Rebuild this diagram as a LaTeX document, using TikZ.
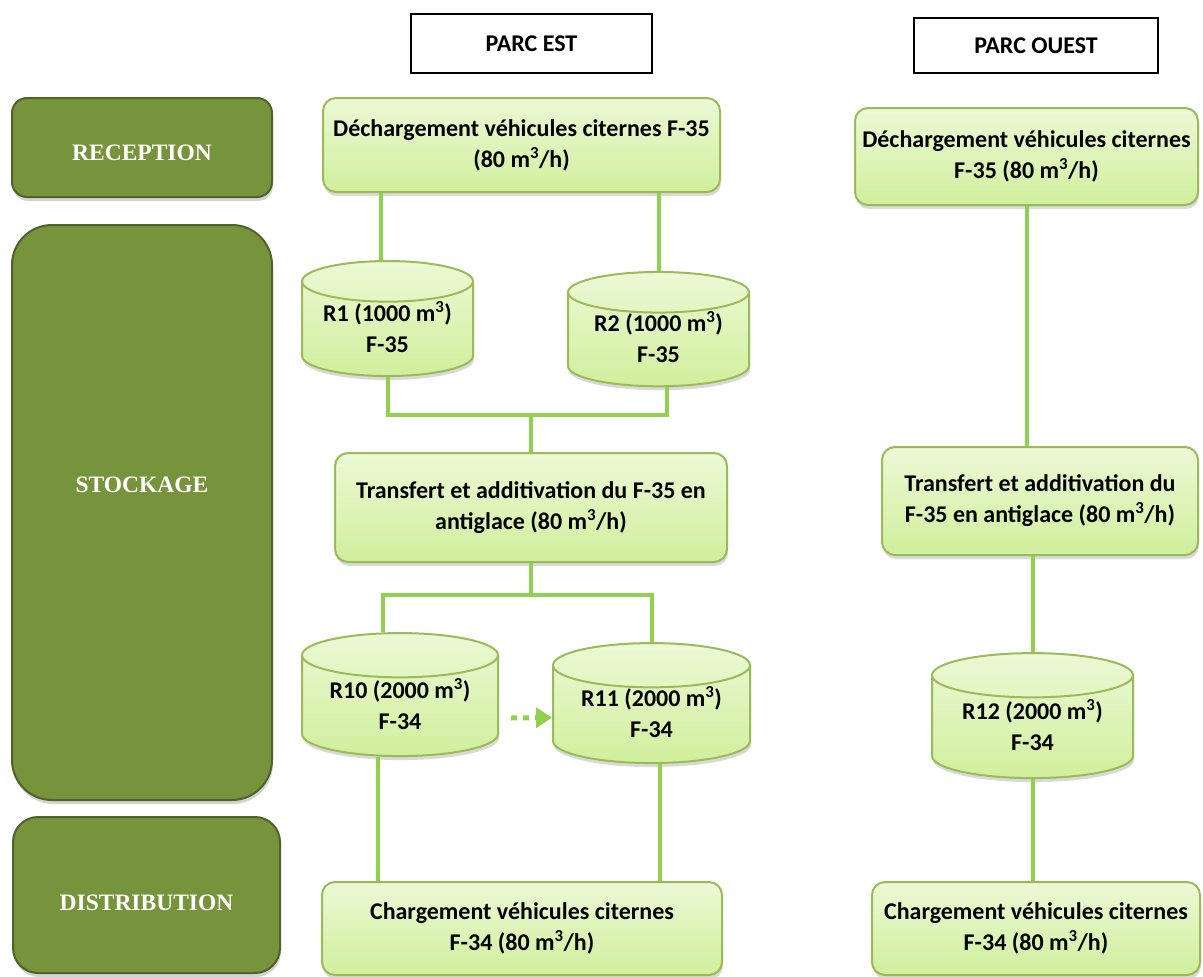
\documentclass[tikz,border=0pt]{standalone}
\usepackage{fontspec}
\setmainfont{Liberation Serif}
\newfontfamily\calib{Carlito}
\usetikzlibrary{shapes, arrows.meta, positioning, shadows}
\definecolor{olivefill}{RGB}{119, 147, 60}
\definecolor{olivedark}{RGB}{79, 98, 40}
\definecolor{boxline}{RGB}{155, 187, 89}
\definecolor{boxtop}{RGB}{236, 249, 214}
\definecolor{boxbottom}{RGB}{208, 239, 156}
\definecolor{pipe}{RGB}{146, 208, 80}

\begin{document}
\begin{tikzpicture}[x=1pt, y=-1pt,
        phase/.style={rectangle, draw=olivedark, line width=2pt, fill=olivefill, drop shadow={shadow xshift=1pt, shadow yshift=-4pt, opacity=0.35}},
        phasetext/.style={text=white, font=\bfseries\fontsize{23.5}{28}\selectfont},
        parc/.style={rectangle, draw, line width=2pt, fill=white, font=\calib\bfseries\fontsize{24}{28}\selectfont},
        unit/.style={rectangle, draw=boxline, line width=2pt, rounded corners=13pt, top color=boxtop, bottom color=boxbottom, align=center, font=\calib\bfseries\fontsize{24}{31}\selectfont, drop shadow={shadow xshift=1pt, shadow yshift=-4pt, opacity=0.3}},
        tank/.style 2 args={cylinder, shape border rotate=90, aspect=0.3, draw=boxline, line width=2pt, top color=boxtop, bottom color=boxbottom, align=center, font=\calib\bfseries\fontsize{24}{31}\selectfont, drop shadow={shadow xshift=1pt, shadow yshift=-4pt, opacity=0.3}, node contents={\phantom{#1}\\\phantom{#2}}, label={[tanktext]center:{#1\\#2}}},
        tanktext/.style={align=center, yshift=5pt, font=\calib\bfseries\fontsize{24}{31}\selectfont},
        line/.style={draw=pipe, line width=4pt},
        flowdot/.style={draw=pipe, line width=5pt, dash pattern=on 6pt off 6pt, -{Triangle[length=16pt, width=20pt]}}
    ]
        \useasboundingbox (0,0) rectangle (1203,977);

        \node[phase, rounded corners=15pt, minimum width=260pt, minimum height=99pt, label={[phasetext, yshift=-5pt]center:RECEPTION}] (reception) at (142,147.5) {};
        \node[phase, rounded corners=40pt, minimum width=260pt, minimum height=575pt, label={[phasetext, yshift=28pt]center:STOCKAGE}] (stockage) at (142,512.5) {};
        \node[phase, rounded corners=25pt, minimum width=267pt, minimum height=156pt, label={[phasetext, yshift=-8pt]center:DISTRIBUTION}] (distribution) at (146.5,895) {};

        \node[parc, minimum width=241pt, minimum height=59pt] (parcEst) at (531.5,43.5) {PARC EST};
        \node[parc, minimum width=244pt, minimum height=55pt] (parcOuest) at (1036,45.5) {PARC OUEST};

        \node[unit, minimum width=397pt, minimum height=94pt] (dechEst) at (521.5,145) {Déchargement véhicules citernes F-35\\(80 m\textsuperscript{3}/h)};
        \node (R1) at (387.5,332) [tank={R1 (1000 m\textsuperscript{3})}{F-35}, minimum width=171pt, minimum height=115pt];
        \node (R2) at (658.5,342.5) [tank={R2 (1000 m\textsuperscript{3})}{F-35}, minimum width=181pt, minimum height=110pt];
        \node[unit, minimum width=392pt, minimum height=109pt] (transEst) at (531,507.5) {Transfert et additivation du F-35 en\\antiglace (80 m\textsuperscript{3}/h)};
        \node (R10) at (400,709) [tank={R10 (2000 m\textsuperscript{3})}{F-34}, minimum width=196pt, minimum height=123pt];
        \node (R11) at (651.5,717.5) [tank={R11 (2000 m\textsuperscript{3})}{F-34}, minimum width=197pt, minimum height=120pt];
        \node[unit, minimum width=400pt, minimum height=93pt] (chargEst) at (522,928.5) {Chargement véhicules citernes\\F-34 (80 m\textsuperscript{3}/h)};

        \node[unit, minimum width=343pt, minimum height=97pt] (dechOuest) at (1026.5,156.5) {Déchargement véhicules citernes\\F-35 (80 m\textsuperscript{3}/h)};
        \node[unit, minimum width=316pt, minimum height=108pt] (transOuest) at (1040,501) {Transfert et additivation du\\F-35 en antiglace (80 m\textsuperscript{3}/h)};
        \node (R12) at (1032.5,730) [tank={R12 (2000 m\textsuperscript{3})}{F-34}, minimum width=201pt, minimum height=125pt];
        \node[unit, minimum width=328pt, minimum height=93pt] (chargOuest) at (1036,928.5) {Chargement véhicules citernes\\F-34 (80 m\textsuperscript{3}/h)};

        \coordinate (jointR) at (531,415);
        \coordinate (jointT) at (531,595);

        \draw[line] ([xshift=-7pt]R1.north) -- ([xshift=-7pt]R1.north |- dechEst.south);
        \draw[line] (R2.north) -- (R2.north |- dechEst.south);
        \draw[line] (R1.south) |- (jointR) -| ([xshift=8pt]R2.south);
        \draw[line] (jointR) -- (transEst.north);
        \draw[line] (transEst.south) -- (jointT);
        \draw[line] ([xshift=-17pt]R10.north) |- (jointT) -| (R11.north);
        \draw[line] ([xshift=-22pt]R10.south) -- ([xshift=-22pt]R10.south |- chargEst.north);
        \draw[line] ([xshift=8pt]R11.south) -- ([xshift=8pt]R11.south |- chargEst.north);
        \draw[flowdot] ([xshift=12pt, yshift=-9pt]R10.east) -- (R11.west);

        \draw[line] (dechOuest.south) -- (dechOuest.south |- transOuest.north);
        \draw[line] (R12.north) -- (R12.north |- transOuest.south);
        \draw[line] (R12.south) -- (R12.south |- chargOuest.north);
    \end{tikzpicture}
\end{document}
